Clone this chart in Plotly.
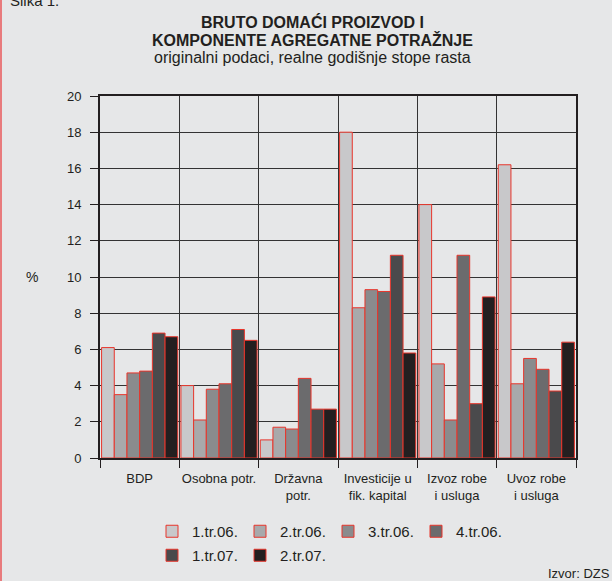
import plotly.graph_objects as go

categories = ['BDP', 'Osobna potr.', 'Državna<br>potr.', 'Investicije u<br>fik. kapital',
              'Izvoz robe<br>i usluga', 'Uvoz robe<br>i usluga']
quarters = ['1.tr.06.', '2.tr.06.', '3.tr.06.', '4.tr.06.', '1.tr.07.', '2.tr.07.']

q1_06 = [6.1, 4.0, 1.0, 18.0, 14.0, 16.2]
q2_06 = [3.5, 2.1, 1.7, 8.3, 5.2, 4.1]
q3_06 = [4.7, 3.8, 1.6, 9.3, 2.1, 5.5]
q4_06 = [4.8, 4.1, 4.4, 9.2, 11.2, 4.9]
q1_07 = [6.9, 7.1, 2.7, 11.2, 3.0, 3.7]
q2_07 = [6.7, 6.5, 2.7, 5.8, 8.9, 6.4]

series = [q1_06, q2_06, q3_06, q4_06, q1_07, q2_07]
colors = ['#c8c8ca', '#a8a9ab', '#8a8b8d', '#6b6b6d', '#4a4a4c', '#231f20']
# first four quarters in the top legend row, the rest in the second row
legend_rows = ['legend', 'legend', 'legend', 'legend', 'legend2', 'legend2']

FONT = 'Liberation Sans, Arial, sans-serif'
INK = '#231f20'
W, H = 612, 581

fig = go.Figure()
for name, vals, col, leg in zip(quarters, series, colors, legend_rows):
    fig.add_trace(go.Bar(x=categories, y=vals, name=name, legend=leg,
                         marker=dict(color=col, line=dict(color='#e8352b', width=1))))

leg_style = dict(orientation='h', xanchor='left', yanchor='top',
                 xref='container', yref='container',
                 font=dict(size=15, color=INK), entrywidth=43, entrywidthmode='pixels',
                 bgcolor='rgba(0,0,0,0)', traceorder='normal')

fig.update_layout(
    width=W, height=H,
    margin=dict(l=100, r=36, t=96, b=123),
    paper_bgcolor='#e6e7e8', plot_bgcolor='#e6e7e8',
    font=dict(family=FONT, color=INK, size=13),
    barmode='group', bargap=0.04, bargroupgap=0,
    showlegend=True,
    legend=dict(x=152 / W, y=1 - 515 / H, **leg_style),
    legend2=dict(x=152 / W, y=1 - 539 / H, **leg_style),
)

fig.update_xaxes(type='category', tickson='boundaries', ticks='outside', ticklen=8,
                 tickcolor=INK, showgrid=True, gridcolor='#333333', gridwidth=1,
                 showline=True, linecolor=INK, linewidth=2, mirror=True,
                 tickangle=0, automargin=False, tickfont=dict(size=13),
                 ticklabelstandoff=7)
fig.update_yaxes(range=[0, 20], dtick=2, ticks='outside', ticklen=8, tickcolor=INK,
                 showgrid=True, gridcolor='#333333', gridwidth=1,
                 showline=True, linecolor=INK, linewidth=2, mirror=True,
                 zeroline=False, automargin=False, tickfont=dict(size=13),
                 ticklabelstandoff=6)

# title lines
title_lines = [('<b>BRUTO DOMAĆI PROIZVOD I</b>', 22),
               ('<b>KOMPONENTE AGREGATNE POTRAŽNJE</b>', 40),
               ('originalni podaci, realne godišnje stope rasta', 58)]
for txt, ypx in title_lines:
    fig.add_annotation(text=txt, xref='paper', yref='paper',
                       x=(312 - 100) / 476, y=(458 - ypx) / 362,
                       xanchor='center', yanchor='middle', showarrow=False,
                       font=dict(size=16, color=INK))

fig.add_annotation(text='Slika 1.', xref='paper', yref='paper',
                   x=(8 - 100) / 476, y=(458 - 1) / 362, xanchor='left', yanchor='middle',
                   showarrow=False, font=dict(size=15, color=INK))
fig.add_annotation(text='%', xref='paper', yref='paper',
                   x=(32 - 100) / 476, y=(458 - 277) / 362, xanchor='center', yanchor='middle',
                   showarrow=False, font=dict(size=14, color=INK))
fig.add_annotation(text='Izvor: DZS', xref='paper', yref='paper',
                   x=(612 - 100) / 476, y=(458 - 573) / 362, xanchor='right', yanchor='middle',
                   showarrow=False, font=dict(size=13, color=INK))

# red frame line at the left edge
fig.add_shape(type='line', xref='paper', yref='paper',
              x0=(1 - 100) / 476, x1=(1 - 100) / 476, y0=-0.5, y1=1.5,
              line=dict(color='#e8575a', width=1.5))

fig.write_html('out.html', config={'displayModeBar': False},
               post_script="document.body.style.margin='0';")
